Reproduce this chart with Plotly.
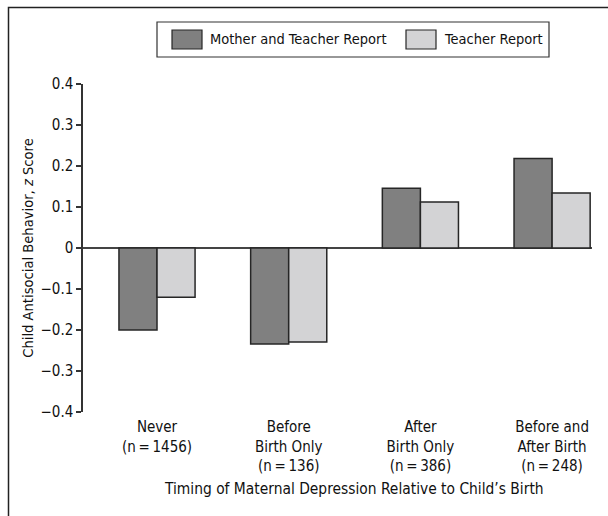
import plotly.graph_objects as go

categories = ["Never<br>(n\u2009=\u20091456)", "Before<br>Birth Only<br>(n\u2009=\u2009136)",
              "After<br>Birth Only<br>(n\u2009=\u2009386)", "Before and<br>After Birth<br>(n\u2009=\u2009248)"]
positions = [0, 1, 2, 3]
mother_teacher = [-0.20, -0.234, 0.146, 0.218]
teacher = [-0.12, -0.229, 0.112, 0.134]
series_names = ["Mother and Teacher Report", "Teacher Report"]
x_title = "Timing of Maternal Depression Relative to Child\u2019s Birth"
y_title = "Child Antisocial Behavior, <i>z</i> Score"
y_ticks = [-0.4, -0.3, -0.2, -0.1, 0, 0.1, 0.2, 0.3, 0.4]
y_ticktext = ["\u22120.4", "\u22120.3", "\u22120.2", "\u22120.1", "0", "0.1", "0.2", "0.3", "0.4"]

FONT = "DejaVu Sans Condensed, Liberation Sans Narrow, sans-serif"
DARK = "#808080"
LIGHT = "#d3d3d5"
EDGE = "#262626"

W, H = 608, 516
L, R, T, B = 83, 16, 84, 104
pw, ph = W - L - R, H - T - B

def px(x):
    return (x - L) / pw

def py(y):
    return (H - B - y) / ph

fig = go.Figure()
fig.add_trace(go.Bar(x=positions, y=mother_teacher, name=series_names[0],
                     marker=dict(color=DARK, line=dict(color=EDGE, width=1.5)),
                     showlegend=False))
fig.add_trace(go.Bar(x=positions, y=teacher, name=series_names[1],
                     marker=dict(color=LIGHT, line=dict(color=EDGE, width=1.5)),
                     showlegend=False))

shapes = []
# outer frame
shapes.append(dict(type="rect", xref="paper", yref="paper",
                   x0=px(8.5), x1=px(800), y0=py(7.5), y1=py(800),
                   line=dict(color="#222222", width=1.5), fillcolor="rgba(0,0,0,0)", layer="below"))
# legend box
shapes.append(dict(type="rect", xref="paper", yref="paper",
                   x0=px(157), x1=px(549), y0=py(22), y1=py(57),
                   line=dict(color="#333333", width=1.2), fillcolor="white"))
# legend swatches
shapes.append(dict(type="rect", xref="paper", yref="paper",
                   x0=px(172), x1=px(202), y0=py(30), y1=py(49),
                   line=dict(color=EDGE, width=1.2), fillcolor=DARK))
shapes.append(dict(type="rect", xref="paper", yref="paper",
                   x0=px(406), x1=px(436), y0=py(30), y1=py(49),
                   line=dict(color=EDGE, width=1.2), fillcolor=LIGHT))

annotations = [
    dict(text=series_names[0], xref="paper", yref="paper", x=px(208), y=py(39.5),
         xanchor="left", yanchor="middle", showarrow=False,
         font=dict(family=FONT, size=14.5, color="#111")),
    dict(text=series_names[1], xref="paper", yref="paper", x=px(442), y=py(39.5),
         xanchor="left", yanchor="middle", showarrow=False,
         font=dict(family=FONT, size=14.5, color="#111")),
    dict(text=x_title, xref="paper", yref="paper", x=px(354), y=py(489),
         xanchor="center", yanchor="middle", showarrow=False,
         font=dict(family=FONT, size=15.4, color="#111")),
]

fig.update_layout(
    width=W, height=H,
    margin=dict(l=L, r=R, t=T, b=B),
    paper_bgcolor="white", plot_bgcolor="white",
    barmode="group", bargap=0.422, bargroupgap=0,
    font=dict(family=FONT, size=14, color="#111"),
    shapes=shapes, annotations=annotations,
    showlegend=False,
)
fig.update_xaxes(
    range=[-0.562, 3.303], tickmode="array", tickvals=positions, ticktext=categories,
    showgrid=False, zeroline=False, showline=False,
    ticks="outside", ticklen=1, tickcolor="rgba(0,0,0,0)",
    tickfont=dict(family=FONT, size=15, color="#111"),
)
fig.update_yaxes(
    range=[-0.4, 0.4], tickmode="array", tickvals=y_ticks, ticktext=y_ticktext,
    showgrid=False, zeroline=True, zerolinecolor="#444444", zerolinewidth=1.5,
    showline=True, linecolor="#333333", linewidth=1.5,
    ticks="outside", ticklen=5, tickcolor="#333333", tickwidth=1.5,
    tickfont=dict(family=FONT, size=15, color="#111"),
    title=dict(text=y_title, font=dict(family=FONT, size=14.6, color="#111"), standoff=3),
)

fig.write_html("out.html", config={"displayModeBar": False},
               post_script="document.body.style.margin='0px';")
